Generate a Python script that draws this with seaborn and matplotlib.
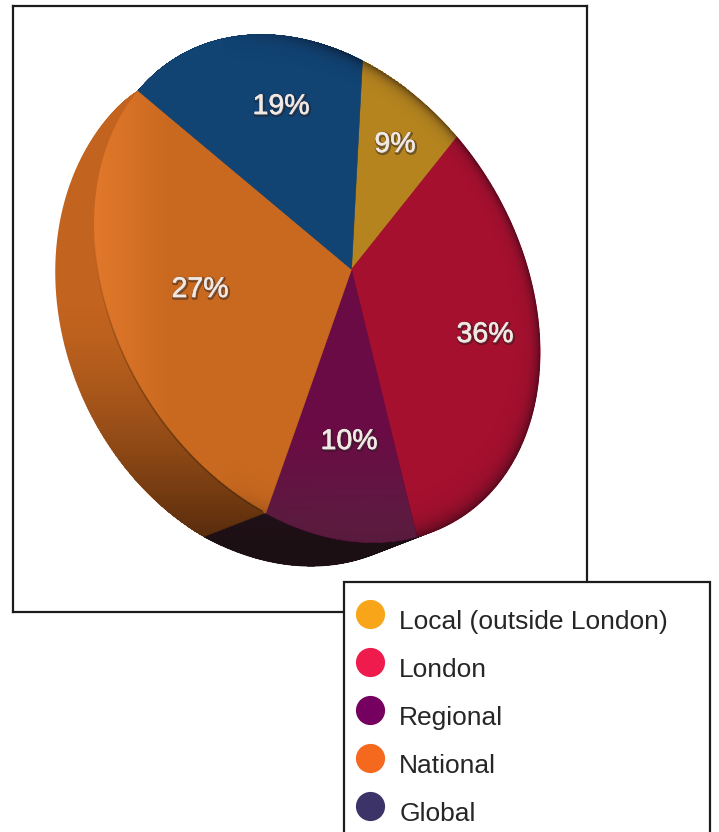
import numpy as np
import matplotlib
matplotlib.use("Agg")
import matplotlib.pyplot as plt
import matplotlib.patheffects as pe
from matplotlib.collections import LineCollection
from matplotlib.lines import Line2D
from matplotlib.path import Path
from matplotlib.transforms import Affine2D, Transform
import seaborn as sns

# Audience split by reach
categories = ["Local (outside London)", "London", "Regional", "National", "Global"]
shares = [9, 36, 10, 27, 19]

face_colors = ["#B5841F", "#A5102F", "#6B0B45", "#C9691F", "#114373"]
side_colors = ["#8A6418", "#1D1020", "#2B1B33", "#C2641F", "#0B2C50"]
legend_colors = ["#F9A51A", "#EE1B4C", "#750060", "#F5691F", "#3C3469"]
label_xy = [(395, 145), (485, 335), (349, 442), (200, 290), (281, 107)]

# Where the pie's rim and apex land on the page (pixel coordinates)
rim_pixels = [(362, 60), (457, 138), (415, 538), (267, 513), (137, 92)]
apex_pixel = (354, 267)
depth = (-62, 24)
DEPTH_STEPS = 40
START_ANGLE = 90


def unit_point(fraction):
    a = np.deg2rad(START_ANGLE - 360 * fraction)
    return np.cos(a), np.sin(a)


def fit_homography(src, dst):
    rows = []
    for (u, v), (x, y) in zip(src, dst):
        rows.append([u, v, 1, 0, 0, 0, -x * u, -x * v, -x])
        rows.append([0, 0, 0, u, v, 1, -y * u, -y * v, -y])
    return np.linalg.svd(np.array(rows, float))[2][-1].reshape(3, 3)


class Homography(Transform):
    """Projective map from the unit-circle pie to page pixels."""
    input_dims = output_dims = 2
    is_separable = False
    has_inverse = False

    def __init__(self, matrix):
        super().__init__()
        self.matrix = matrix

    def transform_non_affine(self, values):
        values = np.asarray(values, float)
        pts = np.column_stack([values, np.ones(len(values))]) @ self.matrix.T
        return pts[:, :2] / pts[:, 2:]

    def transform_path_non_affine(self, path):
        # Bezier control points do not survive a projective map, so flatten first
        big = path.transformed(Affine2D().scale(2000))
        poly = big.to_polygons(closed_only=False)[0] / 2000
        return Path(self.transform_non_affine(poly))


def depth_gain(y):
    # The body thickens from nothing at the top-left corner of the National slice
    return np.clip((y - 92) / 421, 0, 1) ** 0.45


class DepthShift(Transform):
    """Pushes page points along the extrusion direction."""
    input_dims = output_dims = 2
    is_separable = False
    has_inverse = False

    def __init__(self, amount):
        super().__init__()
        self.amount = amount

    def transform_non_affine(self, values):
        g = depth_gain(values[:, 1]) * self.amount
        return values + np.column_stack([depth[0] * g, depth[1] * g])


fractions = np.cumsum([0] + shares[:-1]) / sum(shares)
src = [unit_point(f) for f in fractions] + [(0, 0)]
dst = list(rim_pixels) + [apex_pixel]
H = fit_homography(src, dst)
H_inv = np.linalg.inv(H)
project = Homography(H)

sns.set_theme(style="white")
plt.rcParams["font.family"] = ["Liberation Sans", "DejaVu Sans"]

W, H_PX = 719, 832
fig = plt.figure(figsize=(W / 100, H_PX / 100), dpi=100)
L, R, T, B = 13, 587, 6, 612
ax = fig.add_axes([L / W, 1 - B / H_PX, (R - L) / W, (B - T) / H_PX])

# Extruded body: the same pie repeated along the depth direction
for s in np.linspace(1, 0, DEPTH_STEPS):
    wedges, _ = ax.pie(shares, colors=sns.color_palette(side_colors),
                       startangle=START_ANGLE, counterclock=False, normalize=True)
    for w in wedges:
        w.set_transform(project + DepthShift(s) + ax.transData)
        w.set_zorder(1)
        w.set_edgecolor("none")
        w.set_linewidth(0)

# Top face with percentage labels
wedges, _, autotexts = ax.pie(shares, colors=sns.color_palette(face_colors),
                              startangle=START_ANGLE, counterclock=False,
                              normalize=True, autopct="%.0f%%")
for w in wedges:
    w.set_transform(project + ax.transData)
    w.set_zorder(3)
    w.set_edgecolor(w.get_facecolor())
    w.set_linewidth(0.4)
for t, xy in zip(autotexts, label_xy):
    t.set_transform(ax.transData)
    t.set_position(xy)
    t.set(color="#F1E9E4", fontsize=20.5, zorder=7, ha="center", va="center")
    t.set_path_effects([
        pe.Stroke(linewidth=2.4, foreground="#1E1618", alpha=0.45, offset=(0.6, -0.8)),
        pe.Stroke(linewidth=0.4, foreground="#F1E9E4"),
        pe.Normal(),
    ])

# Pixel grid used for the shading overlays
xx, yy = np.meshgrid(np.arange(L, R) + 0.5, np.arange(T, B) + 0.5)


def disc_radius(x, y):
    p = np.stack([x, y, np.ones_like(x)], axis=-1) @ H_inv.T
    return np.hypot(p[..., 0] / p[..., 2], p[..., 1] / p[..., 2])


def overlay(rgb, alpha, z, clip=None):
    img = np.zeros(xx.shape + (4,))
    img[..., :3] = np.array(rgb) / 255
    img[..., 3] = np.clip(alpha, 0, 1)
    im = ax.imshow(img, extent=(L, R, B, T), aspect="auto", zorder=z, interpolation="bilinear")
    if clip is not None:
        im.set_clip_path(clip)
    return im


# Body shading falls off towards the lower right
swept = np.zeros(xx.shape, bool)
for s in np.linspace(0, 1, DEPTH_STEPS):
    y0 = yy.copy()
    for _ in range(4):
        y0 = yy - s * depth[1] * depth_gain(y0)
    swept |= disc_radius(xx - s * depth[0] * depth_gain(y0), y0) <= 1
body_alpha = 0.62 * np.clip((yy - 300) / 240, 0, 1) ** 1.5 * swept
overlay((20, 8, 0), body_alpha, 2)

# Top face shading: darker right-hand rim, warm left edge on National, duller base on Regional
r = disc_radius(xx, yy)
overlay((10, 5, 15), 0.5 * r ** 30 * np.clip((xx - 220) / 120, 0, 1) * (r <= 1), 4)
overlay((242, 130, 52), 0.6 * np.clip((170 - xx) / 75, 0, 1), 5, clip=wedges[3])
overlay((92, 30, 64), 0.85 * np.clip((yy - 430) / 90, 0, 1), 5, clip=wedges[2])

# Dark seam under the National rim, fading out as it climbs the left side
seam = np.linspace(fractions[3] + 0.002, fractions[3] + 0.17, 70)
seam_xy = project.transform(np.array([unit_point(f) for f in seam]))
segments = np.stack([seam_xy[:-1], seam_xy[1:]], axis=1)
fade = np.clip(1 - np.linspace(0, 1, len(segments)) ** 1.5, 0, 1) * 0.75
seam_rgba = np.column_stack([np.tile([0.23, 0.13, 0.03], (len(segments), 1)), fade])
ax.add_collection(LineCollection(segments, colors=seam_rgba, linewidths=1.1, zorder=6))

ax.set_xlim(L, R)
ax.set_ylim(B, T)
ax.set_aspect("auto")
ax.set_frame_on(True)
ax.set_xticks([])
ax.set_yticks([])
for spine in ax.spines.values():
    spine.set_color("#1c1c1c")
    spine.set_linewidth(1.6)
    spine.set_zorder(8)

# Legend box, running off the bottom of the page
handles = [Line2D([], [], linestyle="none", marker="o", markersize=21,
                  markerfacecolor=c, markeredgecolor="none") for c in legend_colors]
box = (344 / W, 1 - 860 / H_PX, 366 / W, 278 / H_PX)
leg = fig.legend(handles, categories, loc="upper left", bbox_to_anchor=box,
                 bbox_transform=fig.transFigure, mode="expand", ncols=1,
                 fontsize=19, frameon=True, fancybox=False, framealpha=1,
                 facecolor="white", edgecolor="#1c1c1c", borderaxespad=0,
                 borderpad=1.05, labelspacing=0.916, handlelength=0.7,
                 handletextpad=0.34, labelcolor="#262626")
leg.get_frame().set_linewidth(1.6)
leg.set_zorder(20)
# Dots sit a little left of and above their text
for h in leg.legend_handles:
    h.set_xdata(np.asarray(h.get_xdata()) - 8)
    h.set_ydata(np.asarray(h.get_ydata()) + 4.3)

fig.savefig("out.png", dpi=100, facecolor="white")
